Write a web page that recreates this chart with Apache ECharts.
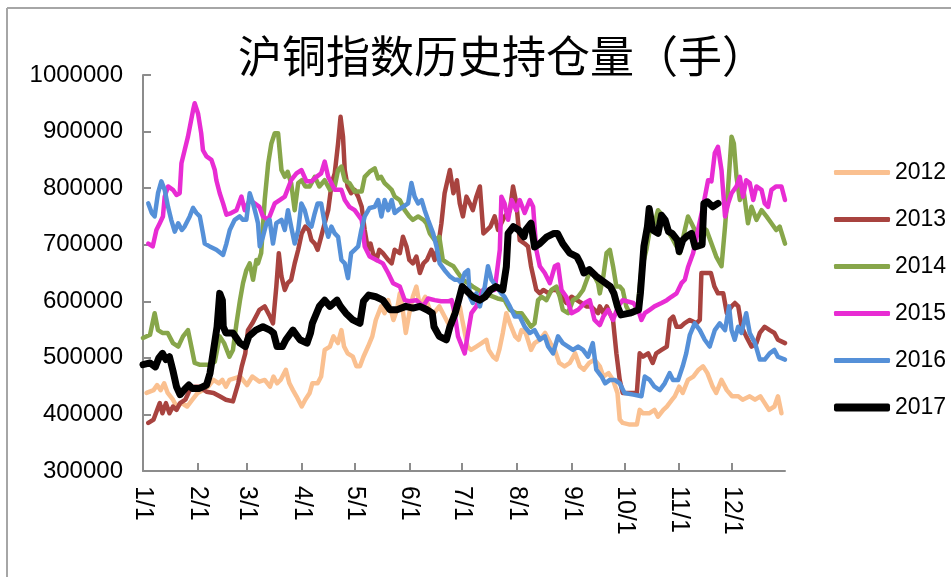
<!DOCTYPE html>
<html>
<head>
<meta charset="utf-8">
<script src="https://cdn.jsdelivr.net/npm/echarts@6/dist/echarts.min.js"></script>
<style>
html,body{margin:0;padding:0;background:#fff;}
#chart{width:951px;height:577px;}
</style>
</head>
<body>
<div id="chart"></div>
<script>
// x = day of year (0 = Jan 1), y = open interest in thousands of 手
const monthStartDays = [0,31,59,90,120,151,181,212,243,273,304,334];
const monthLabels = ['1/1','2/1','3/1','4/1','5/1','6/1','7/1','8/1','9/1','10/1','11/1','12/1'];
const yearNames = ['2012','2013','2014','2015','2016','2017'];

const s2012 = [[2,438],[6,443],[8,452],[10,443],[12,455],[14,438],[17,426],[19,414],[22,420],[25,414],[28,426],[31,438],[34,443],[37,449],[40,461],[43,455],[45,461],[47,449],[49,461],[55,467],[59,452],[62,467],[66,458],[69,461],[72,449],[74,467],[76,455],[78,461],[81,479],[83,455],[85,443],[87,432],[90,414],[92,426],[94.5,438],[96,455],[99,455],[101,467],[103,514],[106,520],[108,538],[110.5,526],[112.5,549],[114,520],[116,508],[119,502],[121,485],[123,485],[125,502],[127.6,520],[130,538],[132,567],[135,591],[137,579],[139,602],[142,567],[144,585],[145.6,614],[147,591],[149,544],[151,579],[153,608],[155,626],[157,591],[160,608],[162.6,585],[165,579],[168,591],[171,573],[174,555],[177,591],[179.6,591],[181,567],[184,520],[186,514],[189,520],[192,526],[194.7,532],[196,514],[198.5,502],[200.4,497],[202,514],[204,544],[206,579],[208,561],[211,538],[213,532],[214.6,549],[217,544],[220,514],[222,526],[225,532],[228,544],[231,526],[233.5,514],[236,491],[239,485],[242,491],[245,508],[247.6,485],[250,479],[253,491],[256,497],[259,485],[261,467],[264,473],[266.5,461],[269,438],[270.3,391],[272,385],[276,382],[280,382],[281.6,408],[283.5,402],[287,402],[290,408],[292,396],[295,408],[297,414],[300,426],[301.5,432],[304,449],[306,438],[309,461],[312,467],[315,479],[317.5,485],[320,473],[323,449],[325,438],[328,461],[331,443],[334,432],[337.5,432],[340,426],[344,432],[347,426],[350,432],[352.5,420],[355,408],[358,414],[360,432],[362,402]];

const s2013 = [[3,385],[6,391],[8,408],[9.5,420],[11,402],[13,420],[15,402],[17,414],[19,408],[21,420],[24,426],[26.5,443],[29,449],[32,449],[36,440],[40,438],[43.5,432],[47,426],[51,423],[54,455],[56,485],[58,508],[59.5,549],[62,561],[65,579],[66,585],[69,591],[72,573],[73.7,561],[75.6,626],[77,685],[78.5,644],[80.4,620],[82,632],[84,638],[86,667],[88,691],[90,720],[92,732],[94,726],[95.5,708],[97.4,702],[99,691],[101,714],[103,738],[105,761],[107,809],[108.7,826],[110.6,879],[112,926],[113.4,891],[114.4,832],[116,803],[118,791],[120,797],[122,785],[124,767],[125.7,726],[127.6,691],[129,702],[130.4,685],[132.4,673],[134,691],[136,685],[139,673],[141,667],[142.7,691],[145.6,685],[147.4,714],[149.4,697],[151,673],[153,667],[155,679],[157,650],[159,667],[161,673],[163.5,691],[165.4,673],[167.3,697],[169.2,738],[171,791],[174,832],[176,791],[178,814],[179.6,773],[181.4,750],[183.4,785],[185.3,773],[187,761],[189,785],[191,803],[193,720],[195,726],[197,732],[199.4,750],[201.3,726],[205,750],[208,760],[209.8,803],[211.7,773],[213.6,708],[216.4,702],[218.3,697],[220,662],[223,620],[225,614],[227,620],[230,614],[232,620],[234.4,620],[237.3,608],[240,597],[243,608],[246,602],[248.6,597],[251.4,591],[254,591],[258,579],[259,591],[261,579],[263,591],[264.7,579],[266.5,567],[268.4,508],[270.3,461],[272,438],[276,438],[280,438],[281.6,508],[283.5,502],[286.4,508],[289,491],[291,508],[294,514],[297,520],[298.7,567],[300.6,573],[302.5,555],[305,555],[307,561],[310,567],[313.8,561],[315.7,567],[316.6,650],[319.5,650],[322,650],[324,626],[326,614],[329,614],[331,579],[333.7,591],[335.6,597],[337.5,591],[339.4,555],[342,538],[345,520],[347.8,526],[349.7,544],[352.5,555],[355.3,549],[358,544],[360,532],[364,526]];

const s2014 = [[0,535],[4,541],[6.6,579],[8.5,549],[11,544],[14,544],[17,526],[20,520],[22.7,538],[25.5,549],[27.4,520],[29.3,491],[32,488],[38,488],[40.7,493],[43.5,538],[46,526],[49,502],[51,514],[53,561],[55,602],[56.7,632],[58.6,655],[60.5,667],[62.4,638],[64.3,673],[65.2,667],[67,685],[69,779],[71,844],[72.8,879],[74.7,897],[76.6,897],[78.5,832],[80.4,820],[82,829],[84,809],[86,761],[88,809],[90,814],[92,803],[94.5,803],[97.4,820],[100,803],[103,814],[106,797],[108.7,803],[110.6,832],[112.5,838],[114.4,814],[117,809],[120,794],[124,794],[125.7,820],[128.5,829],[131.4,835],[133.3,817],[135,820],[137,809],[139,803],[141,797],[142.7,785],[145.6,779],[148.4,761],[151,750],[153,744],[156,750],[159,744],[160.7,738],[162.6,720],[165.4,708],[168,714],[170,673],[173,667],[176,662],[178.6,650],[181.4,638],[184.3,632],[187,626],[190,620],[193,614],[197,610],[201,605],[205,602],[208,585],[211.7,579],[214.6,579],[217.4,567],[220,555],[222,561],[224,602],[226,608],[228.7,602],[231.6,620],[234.4,626],[236.3,608],[238,585],[241,579],[243.8,602],[246.7,608],[249.5,620],[252.3,644],[254.2,655],[258,632],[259,614],[261,644],[262.8,685],[264.7,691],[266.5,662],[268.4,626],[270.3,626],[272,620],[274,591],[276,579],[278,579],[280.7,597],[282.6,655],[285.4,691],[287.3,726],[290,738],[292,761],[295,750],[297,726],[299.6,714],[302.5,697],[304.3,685],[307.2,726],[309,750],[311,738],[313.8,720],[316.6,732],[319.5,726],[322.3,702],[325,679],[328,662],[330,732],[331.8,803],[333.7,891],[335,879],[336.5,820],[338.4,779],[340.2,803],[343,738],[345,767],[347.8,744],[350.7,761],[353.5,750],[356.3,738],[359,726],[361,732],[364,702]];

const s2015 = [[3,702],[5.5,697],[7.6,726],[9.5,738],[11.3,750],[12.3,785],[14.2,803],[17,797],[19,788],[20.8,791],[21.8,844],[23.6,867],[25.5,891],[28.4,938],[29.3,950],[31.2,932],[33,897],[34,867],[36,856],[38.8,850],[40.7,832],[41.6,814],[43.5,791],[45.4,773],[47.3,753],[50,756],[53,761],[55.8,785],[57.7,761],[60.5,779],[63.3,773],[66,767],[68,750],[71,744],[74.7,773],[77.5,779],[80.4,785],[84,814],[87,826],[89.8,832],[92.7,812],[95.5,812],[98.3,820],[101,826],[103,847],[105,820],[108.7,797],[112.5,797],[114.4,779],[117,767],[120,761],[124,744],[125.7,697],[128.5,679],[132.4,673],[136,667],[139,650],[141.8,632],[145.6,626],[148.4,602],[151,600],[155,602],[158.8,591],[161.6,605],[165.4,602],[169,600],[173,600],[175,602],[176.7,579],[178.6,538],[182.4,508],[184.3,544],[186.2,579],[189,591],[191,608],[192.8,620],[195.7,620],[199.4,620],[202.3,691],[203.2,785],[205,773],[207,744],[209,779],[211.7,761],[213.6,779],[216.4,756],[219.3,779],[221.2,767],[223,691],[225,662],[227.8,650],[230.7,632],[233.5,662],[235.3,665],[237.3,620],[240,608],[243,579],[246.7,585],[250.5,597],[253.3,602],[256,567],[259,558],[261,573],[263.7,585],[266.5,567],[269.4,591],[272,602],[278,597],[280.7,585],[282.6,567],[284.5,579],[287.3,585],[290,591],[294,597],[297,602],[299.6,608],[302.5,614],[305.3,632],[307.2,638],[309,660],[311.9,685],[314.7,726],[317.5,767],[320.4,814],[322.3,812],[324.2,862],[326,873],[328,832],[330,750],[331.8,773],[333.7,791],[336.5,803],[338.4,820],[340.2,785],[342,814],[344,809],[346,779],[347.8,803],[350.7,797],[352.5,773],[354.4,767],[356.3,797],[359,803],[362,803],[364,779]];

const s2016 = [[3,773],[5,756],[6.6,750],[8.5,791],[10.4,812],[12.3,797],[14.2,767],[16,744],[18,723],[20,738],[22,726],[23.6,732],[26.5,750],[28.4,765],[30.3,756],[32.2,750],[34,720],[35,702],[37.8,697],[41.6,691],[45.4,682],[47.3,702],[49.2,726],[52,744],[54.8,750],[56.7,744],[58.6,744],[60.5,791],[62.4,773],[64.3,750],[65.2,738],[66.2,697],[68,714],[70,738],[71.8,744],[73.7,702],[75.6,738],[78.5,744],[80.4,726],[82.2,761],[84,732],[86,702],[88,726],[89.8,773],[91.7,761],[93.6,738],[95.5,732],[97.4,756],[99,773],[101,773],[103,738],[105,714],[106.8,732],[108.7,720],[110.6,714],[112.5,673],[114.4,667],[116.2,641],[118,685],[120,691],[122,697],[123.8,726],[125.7,750],[128.5,765],[131.4,767],[133.3,779],[135.2,750],[137,779],[139,761],[141,779],[142.7,756],[144.6,761],[147.4,767],[150.3,773],[152.2,809],[154,785],[156,773],[158,779],[159.7,761],[161.6,744],[164.5,720],[166.4,697],[168.2,667],[171,655],[174,644],[176.7,638],[178.6,638],[180.5,632],[182.4,650],[184.3,655],[185.3,608],[187,597],[189,614],[191,591],[193.8,626],[195.6,662],[197.6,638],[200.4,626],[203.2,614],[205,608],[208,591],[210.8,573],[213.6,573],[216.4,555],[219.3,544],[222,549],[225,532],[227.8,538],[229.7,520],[232.5,508],[235.3,538],[238,526],[241,520],[243.8,514],[246.7,520],[249.5,514],[252.3,502],[255,526],[257,479],[260,467],[262,455],[264.7,461],[267.5,461],[270.3,455],[273,438],[278,435],[282.6,432],[284.5,467],[287.3,461],[290,449],[293,443],[295.8,455],[298.6,473],[300.5,461],[303.4,461],[306,485],[308,508],[310,540],[312.8,561],[315.7,549],[318.5,532],[321.3,520],[324.2,549],[327,561],[330,549],[332.3,591],[333.7,549],[335.5,532],[337.4,555],[339.3,544],[342,579],[344,544],[347,526],[349.7,497],[352.5,497],[355.3,508],[358,514],[360,502],[364,497]];

const s2017 = [[0,488],[4,491],[7,484],[9,500],[11,508],[13,497],[15,502],[17,477],[19,449],[21,435],[24,446],[26,452],[28,446],[32,446],[36,452],[38,473],[40,514],[42,555],[43.5,614],[45,602],[45.5,555],[47,544],[51,544],[55,526],[58,520],[60,538],[64,549],[68,555],[72,549],[74,544],[76,520],[79,520],[81,532],[85,549],[89,532],[93,526],[95,544],[96,561],[100,591],[103,602],[106,591],[110,602],[112,591],[115,579],[119,567],[123,561],[125,600],[128,611],[132,608],[136,602],[140,585],[144,585],[149,591],[153,588],[157,591],[161,585],[164,579],[165,555],[168,538],[172,532],[174,555],[177,579],[179,602],[181,626],[183,620],[187,608],[191,602],[194,608],[197,620],[200,626],[204,620],[206,661],[207,720],[210,732],[213,726],[216,714],[217,726],[220,738],[222,696],[225,702],[229,714],[233,720],[235,720],[238,702],[242,685],[246,679],[248,667],[250,650],[253,656],[257,644],[261,635],[265,626],[267,614],[269,591],[271,576],[276,579],[281,585],[282,614],[284,697],[286,732],[287,764],[288,761],[289,726],[292,720],[294,752],[296,744],[298,723],[300,720],[303,708],[304,688],[306,708],[308,714],[311,720],[313,696],[317,700],[318,773],[320,776],[323,767],[326,773]];

const seriesData = [s2012, s2013, s2014, s2015, s2016, s2017];
const colors = ['#FAC090', '#A8433F', '#87A64A', '#E82CD3', '#5590D8', '#000000'];
const widths = [4.5, 4.5, 4.5, 4.5, 4.5, 7];

const chart = echarts.init(document.getElementById('chart'));
const FONT = 'Liberation Sans';
const legendBase = {
  orient: 'vertical',
  left: 829,
  itemWidth: 56, itemGap: 20,
  icon: 'roundRect',
  textStyle: { fontFamily: FONT, fontSize: 23, color: '#000', lineHeight: 27 }
};

chart.setOption({
  animation: false,
  backgroundColor: '#ffffff',
  title: {
    text: '沪铜指数历史持仓量（手）',
    left: 233, top: 29,
    textStyle: { fontFamily: 'Noto Sans CJK SC', fontSize: 44, fontWeight: 'normal', color: '#000' }
  },
  graphic: [
    { type: 'line', shape: { x1: 7, y1: 8, x2: 951, y2: 8 }, style: { stroke: '#a6a6a6', lineWidth: 2 } },
    { type: 'line', shape: { x1: 7, y1: 8, x2: 7, y2: 577 }, style: { stroke: '#a6a6a6', lineWidth: 2 } }
  ],
  legend: [
    Object.assign({}, legendBase, { top: 154, itemHeight: 5, data: yearNames.slice(0, 5) }),
    Object.assign({}, legendBase, { top: 154 + 5 * 47, itemHeight: 8, data: yearNames.slice(5) })
  ],
  grid: { left: 143, right: 166, top: 75, bottom: 106, containLabel: false },
  xAxis: {
    type: 'value', min: 0, max: 364,
    axisLine: { show: true, lineStyle: { color: '#8c8c8c', width: 2 } },
    axisTick: { show: true, inside: true, length: 8, customValues: monthStartDays, lineStyle: { color: '#8c8c8c', width: 2 } },
    axisLabel: {
      customValues: monthStartDays,
      formatter: function (v) { const i = monthStartDays.indexOf(v); return i >= 0 ? monthLabels[i] : ''; },
      rotate: -90, margin: 15,
      fontFamily: FONT, fontSize: 25, color: '#000'
    },
    splitLine: { show: false }
  },
  yAxis: {
    type: 'value', min: 300000, max: 1000000, interval: 100000,
    axisLine: { show: true, lineStyle: { color: '#8c8c8c', width: 2 } },
    axisTick: { show: true, inside: true, length: 8, lineStyle: { color: '#8c8c8c', width: 2 } },
    axisLabel: { fontFamily: FONT, fontSize: 24, color: '#000', margin: 20, formatter: function (v) { return String(v); } },
    splitLine: { show: false }
  },
  series: seriesData.map(function (d, i) {
    return {
      name: yearNames[i],
      type: 'line',
      data: d.map(function (p) { return [p[0], p[1] * 1000]; }),
      showSymbol: false, symbol: 'none',
      color: colors[i],
      lineStyle: { color: colors[i], width: widths[i], cap: 'round', join: 'round' },
      itemStyle: { color: colors[i] },
      z: i + 2
    };
  })
});
</script>
</body>
</html>
